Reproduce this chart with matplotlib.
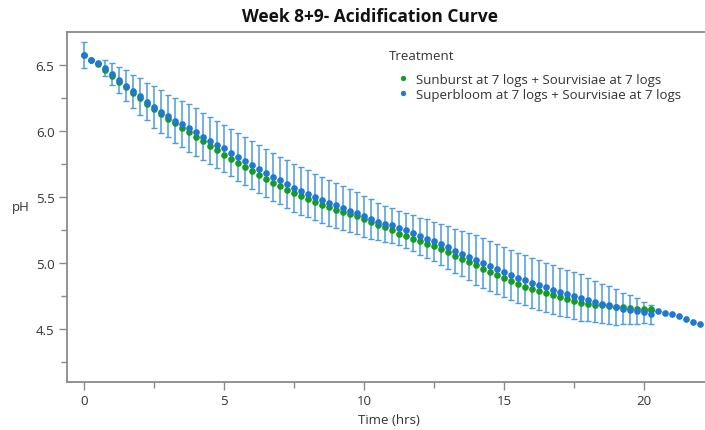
import numpy as np
import matplotlib
matplotlib.use("Agg")
import matplotlib.pyplot as plt
from matplotlib.lines import Line2D
from matplotlib.ticker import MultipleLocator

# readings every 15 min (0.25 h)
STEP = 0.25

sunburst_ph = [
    6.570, 6.535, 6.508, 6.462, 6.418, 6.372, 6.329, 6.285, 6.245, 6.205,
    6.163, 6.125, 6.090, 6.055, 6.024, 5.989, 5.956, 5.921, 5.884, 5.853,
    5.820, 5.788, 5.758, 5.727, 5.695, 5.667, 5.637, 5.607, 5.579, 5.554,
    5.529, 5.506, 5.483, 5.461, 5.440, 5.423, 5.403, 5.387, 5.370, 5.352,
    5.332, 5.310, 5.290, 5.270, 5.246, 5.221, 5.201, 5.185, 5.163, 5.146,
    5.125, 5.103, 5.080, 5.055, 5.033, 5.008, 4.982, 4.957, 4.932, 4.909,
    4.887, 4.866, 4.841, 4.821, 4.803, 4.786, 4.771, 4.756, 4.740, 4.727,
    4.712, 4.698, 4.692, 4.685, 4.680, 4.675, 4.670, 4.665, 4.660, 4.655,
    4.652, 4.650,
]

superbloom_ph = [
    6.573, 6.538, 6.513, 6.473, 6.430, 6.384, 6.341, 6.299, 6.261, 6.221,
    6.180, 6.145, 6.110, 6.077, 6.050, 6.020, 5.989, 5.956, 5.926, 5.896,
    5.866, 5.835, 5.803, 5.773, 5.740, 5.710, 5.680, 5.652, 5.624, 5.599,
    5.569, 5.544, 5.523, 5.498, 5.478, 5.455, 5.435, 5.415, 5.397, 5.378,
    5.355, 5.332, 5.312, 5.295, 5.284, 5.264, 5.246, 5.229, 5.204, 5.184,
    5.163, 5.140, 5.118, 5.093, 5.070, 5.048, 5.022, 5.000, 4.980, 4.957,
    4.932, 4.912, 4.889, 4.869, 4.851, 4.834, 4.816, 4.798, 4.783, 4.768,
    4.753, 4.737, 4.723, 4.707, 4.693, 4.680, 4.669, 4.655, 4.645, 4.637,
    4.626, 4.612,
]

superbloom_err = [
    0.100, 0.000, 0.000, 0.060, 0.083, 0.100, 0.117, 0.126, 0.140, 0.140,
    0.160, 0.160, 0.160, 0.170, 0.175, 0.180, 0.180, 0.180, 0.180, 0.180,
    0.180, 0.180, 0.180, 0.180, 0.180, 0.180, 0.180, 0.180, 0.180, 0.180,
    0.180, 0.179, 0.178, 0.176, 0.175, 0.173, 0.170, 0.168, 0.165, 0.160,
    0.155, 0.150, 0.140, 0.135, 0.130, 0.130, 0.130, 0.135, 0.140, 0.145,
    0.150, 0.155, 0.160, 0.165, 0.170, 0.180, 0.190, 0.190, 0.190, 0.190,
    0.190, 0.190, 0.190, 0.190, 0.190, 0.188, 0.186, 0.184, 0.182, 0.180,
    0.180, 0.178, 0.160, 0.155, 0.150, 0.145, 0.135, 0.120, 0.110, 0.095,
    0.080, 0.070,
]

# single-replicate readings after the paired run ends (from 20 h)
superbloom_tail_start = 20.0
superbloom_tail_ph = [4.647, 4.645, 4.637, 4.625, 4.612, 4.598, 4.580, 4.555, 4.540]

labels = [
    "Sunburst at 7 logs + Sourvisiae at 7 logs",
    "Superbloom at 7 logs + Sourvisiae at 7 logs",
]

GREEN = "#169c22"
BLUE = "#1f78d1"
ERR_BLUE = "#4c9be3"
GREY = "#8a8a8a"
TEXT = "#333333"

plt.rcParams["font.family"] = ["Open Sans", "DejaVu Sans"]

fig = plt.figure(figsize=(7.05, 4.31), dpi=100)
ax = fig.add_axes([67 / 705, 1 - 383 / 431, 1 - 67 / 705, (383 - 33) / 431])

t_green = np.arange(len(sunburst_ph)) * STEP
t_blue = np.arange(len(superbloom_ph)) * STEP
t_tail = superbloom_tail_start + np.arange(len(superbloom_tail_ph)) * STEP

ax.errorbar(t_blue, superbloom_ph, yerr=superbloom_err, fmt="none",
            ecolor=ERR_BLUE, elinewidth=1.1, capsize=2.4, capthick=1.0, zorder=1)
ax.plot(t_tail, superbloom_tail_ph, "o", color=BLUE, ms=4.8, mew=0, zorder=2)
ax.plot(t_green, sunburst_ph, "o", color=GREEN, ms=4.8, mew=0, zorder=3)
ax.plot(t_blue, superbloom_ph, "o", color=BLUE, ms=4.8, mew=0, zorder=4)

ax.set_xlim(-0.61, 22.18)
ax.set_ylim(4.10, 6.747)

ax.xaxis.set_major_locator(MultipleLocator(5))
ax.xaxis.set_minor_locator(MultipleLocator(2.5))
ax.yaxis.set_major_locator(MultipleLocator(0.5))
ax.yaxis.set_minor_locator(MultipleLocator(0.25))
ax.yaxis.set_major_formatter(lambda v, pos: f"{v:.1f}")

ax.tick_params(which="both", direction="out", color=GREY, width=1.0,
               labelsize=9.5, labelcolor=TEXT)
ax.tick_params(which="major", length=6, pad=3)
ax.tick_params(which="minor", length=4)

for side in ["left", "bottom", "top"]:
    ax.spines[side].set_color(GREY)
    ax.spines[side].set_linewidth(1.3)
ax.spines["right"].set_visible(False)

fig.text(370 / 705, 1 - 17 / 431, "Week 8+9- Acidification Curve", ha="center",
         va="center", fontsize=12.5, fontweight="bold", color="#111111")
fig.text(21 / 705, 1 - 208 / 431, "pH", ha="center", va="center",
         fontsize=9.5, color=TEXT)
fig.text(389 / 705, 1 - 421 / 431, "Time (hrs)", ha="center", va="center",
         fontsize=9.5, color=TEXT)

# legend title placed on its own, entries indented below it
fig.text(389 / 705, 1 - 56 / 431, "Treatment", ha="left", va="center",
         fontsize=9.5, color=TEXT)
handles = [
    Line2D([], [], ls="", marker="o", ms=3.8, mew=0, color=GREEN),
    Line2D([], [], ls="", marker="o", ms=3.8, mew=0, color=BLUE),
]
leg = fig.legend(handles, labels, loc="upper left",
                 bbox_to_anchor=(392 / 705, 1 - 67 / 431), frameon=False,
                 fontsize=9.5, handlelength=0.6, handletextpad=0.7,
                 labelspacing=0.15, borderpad=0)
for txt in leg.get_texts():
    txt.set_color(TEXT)

fig.savefig("out.png", dpi=100)
